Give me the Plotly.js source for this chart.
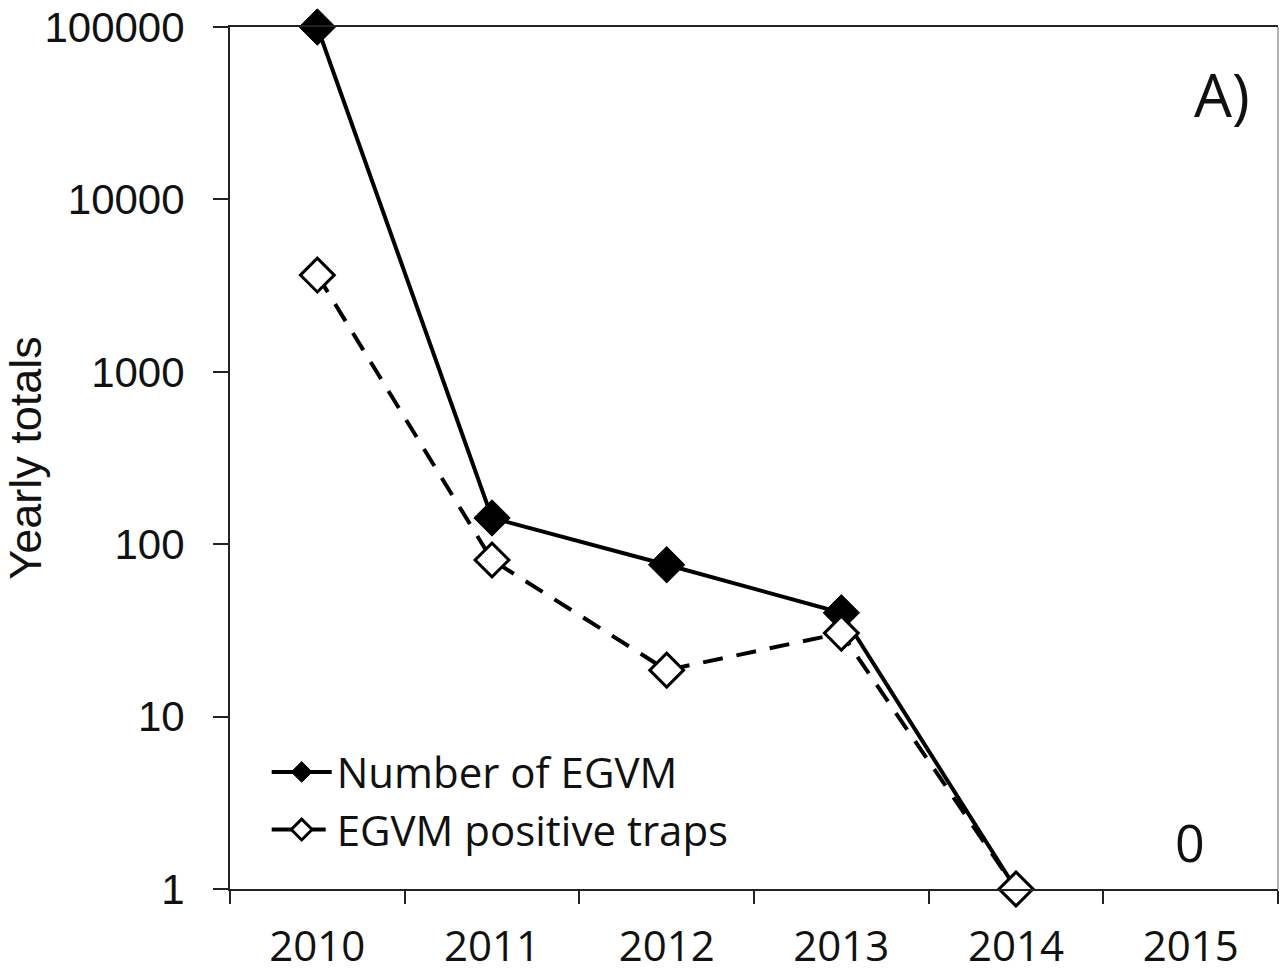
<!DOCTYPE html>
<html>
<head>
<meta charset="utf-8">
<script src="https://cdn.plot.ly/plotly-3.0.1.min.js"></script>
<style>html,body{margin:0;padding:0;background:#fff;}#chart{width:1280px;height:972px;}</style>
</head>
<body>
<div id="chart"></div>
<script>
const years = ["2010", "2011", "2012", "2013", "2014", "2015"];
const dataYears = ["2010", "2011", "2012", "2013", "2014"];
const numberEGVM = [100000, 142, 76, 40, 1];
const positiveTraps = [3640, 81, 18.6, 30.5, 1];
const yTickVals = [1, 10, 100, 1000, 10000, 100000];
const yTickText = ["1", "10", "100", "1000", "10000", "100000"];

const traces = [
  {
    x: dataYears, y: numberEGVM, name: "Number of EGVM",
    type: "scatter", mode: "lines+markers", cliponaxis: false,
    line: {color: "#000", width: 4},
    marker: {symbol: "diamond", size: 28, color: "#000", line: {color: "#000", width: 1}}
  },
  {
    x: dataYears, y: positiveTraps, name: "EGVM positive traps",
    type: "scatter", mode: "lines+markers", cliponaxis: false,
    line: {color: "#000", width: 4, dash: "20px,14px"},
    marker: {symbol: "diamond", size: 26, color: "#fff", line: {color: "#000", width: 3}}
  }
];

const layout = {
  width: 1280, height: 972,
  margin: {l: 230, r: 2, t: 27, b: 83},
  paper_bgcolor: "#fff", plot_bgcolor: "#fff",
  showlegend: true,
  legend: {
    x: 0.035, y: 0.175, xanchor: "left", yanchor: "top",
    bgcolor: "rgba(0,0,0,0)",
    font: {family: "Open Sans, Noto Sans, sans-serif", size: 42, color: "#111"},
    itemwidth: 60, tracegroupgap: 0
  },
  xaxis: {
    type: "category", categoryorder: "array", categoryarray: years,
    range: [-0.5, 5.5], tickson: "boundaries",
    ticks: "outside", ticklen: 13, tickwidth: 2, tickcolor: "#222",
    showline: true, linecolor: "#222", linewidth: 2, mirror: true,
    showgrid: false, zeroline: false, ticklabelstandoff: 20,
    tickfont: {family: "Open Sans, Noto Sans, sans-serif", size: 42, color: "#111"}
  },
  yaxis: {
    type: "log", range: [0, 5],
    tickvals: yTickVals, ticktext: yTickText,
    ticks: "outside", ticklen: 15, tickwidth: 2, tickcolor: "#222",
    showline: true, linecolor: "#222", linewidth: 2,
    showgrid: false, zeroline: false, ticklabelstandoff: 20,
    tickfont: {family: "Liberation Sans, Arial, sans-serif", size: 42, color: "#111"},
    title: {text: "Yearly totals", standoff: 14,
            font: {family: "Liberation Sans, Arial, sans-serif", size: 45, color: "#111"}}
  },
  shapes: [
    {type: "line", xref: "paper", yref: "paper", x0: 1, x1: 1, y0: 0, y1: 1,
     line: {color: "#999", width: 1.5}}
  ],
  annotations: [
    {text: "A)", xref: "paper", yref: "paper", x: 0.9466, y: 0.922,
     xanchor: "center", yanchor: "middle", showarrow: false,
     font: {family: "Open Sans, Noto Sans, sans-serif", size: 60, color: "#111"}},
    {text: "0", xref: "paper", yref: "paper", x: 0.916, y: 0.055,
     xanchor: "center", yanchor: "middle", showarrow: false,
     font: {family: "Open Sans, Noto Sans, sans-serif", size: 52, color: "#111"}}
  ]
};

Plotly.newPlot("chart", traces, layout, {displayModeBar: false, staticPlot: true});
</script>
</body>
</html>
